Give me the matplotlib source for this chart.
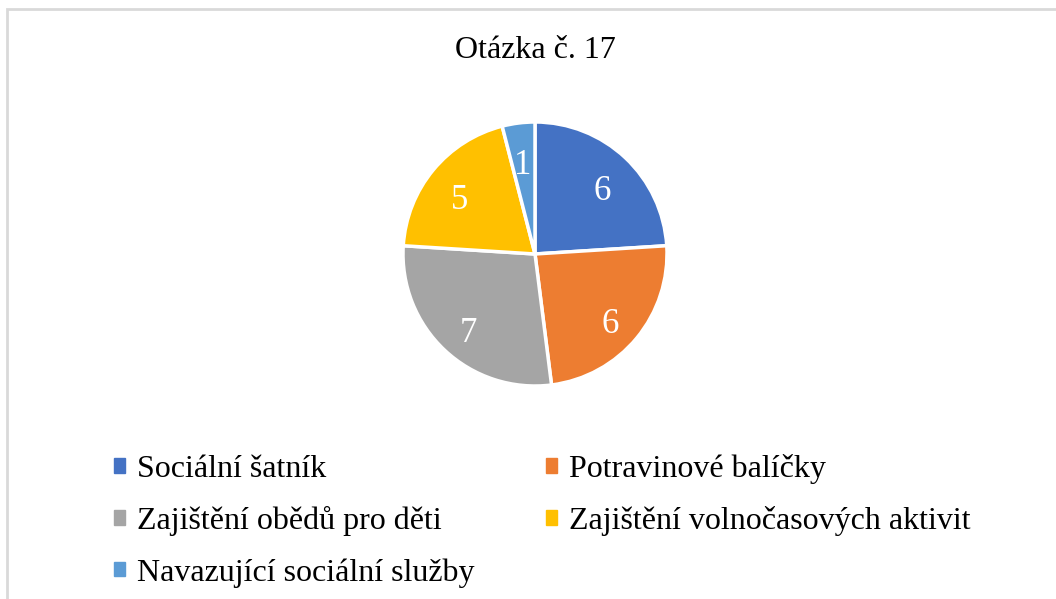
import matplotlib
matplotlib.use("Agg")
import matplotlib.pyplot as plt
import matplotlib.patches as mpatches

# data
labels = ["Sociální šatník", "Potravinové balíčky", "Zajištění obědů pro děti",
          "Zajištění volnočasových aktivit", "Navazující sociální služby"]
values = [6, 6, 7, 5, 1]
colors = ["#4472c4", "#ed7d31", "#a5a5a5", "#ffc000", "#5b9bd5"]
title = "Otázka č. 17"

plt.rcParams['font.family'] = ['Liberation Serif', 'DejaVu Serif']

W, H = 1056, 599
fig = plt.figure(figsize=(W/100, H/100), dpi=100)

# light chart frame (top-left corner visible)
fig.patches.append(mpatches.Rectangle((6.5/W, -0.1), 1.2, 1 - 8.5/H + 0.1,
                                      transform=fig.transFigure, fill=False,
                                      edgecolor="#d9d9d9", lw=2))

# pie centred at (535, 254) px, radius ~132 px
cx, cy, r = 535, 254, 132
ax = fig.add_axes([(cx - r)/W, 1 - (cy + r)/H, 2*r/W, 2*r/H])
wedges, texts = ax.pie(values, colors=colors, startangle=90, counterclock=False,
                       labels=[str(v) for v in values], labeldistance=0.74,
                       wedgeprops=dict(edgecolor="white", linewidth=2.5),
                       textprops=dict(color="white", fontsize=25))
for t in texts:
    t.set_ha("center")
    t.set_va("center")
    # word-style labels sit a little lower
    x, y = t.get_position()
    t.set_position((x, y - 0.065))
ax.set_xlim(-1.0, 1.0)
ax.set_ylim(-1.0, 1.0)

fig.text(cx/W, 1 - 51/H, title, ha="center", va="center", fontsize=23)

# legend, filled row by row
order = [0, 2, 4, 1, 3]
handles = [mpatches.Patch(color=colors[i]) for i in order]
leg = fig.legend(handles, [labels[i] for i in order], ncol=2,
                 loc="upper left", bbox_to_anchor=(114/W, 1 - 454/H),
                 frameon=False, fontsize=23, handlelength=0.33, handleheight=0.33,
                 handletextpad=0.38, columnspacing=2.25, labelspacing=0.69,
                 borderpad=0, borderaxespad=0)

fig.savefig("out.png", dpi=100)
